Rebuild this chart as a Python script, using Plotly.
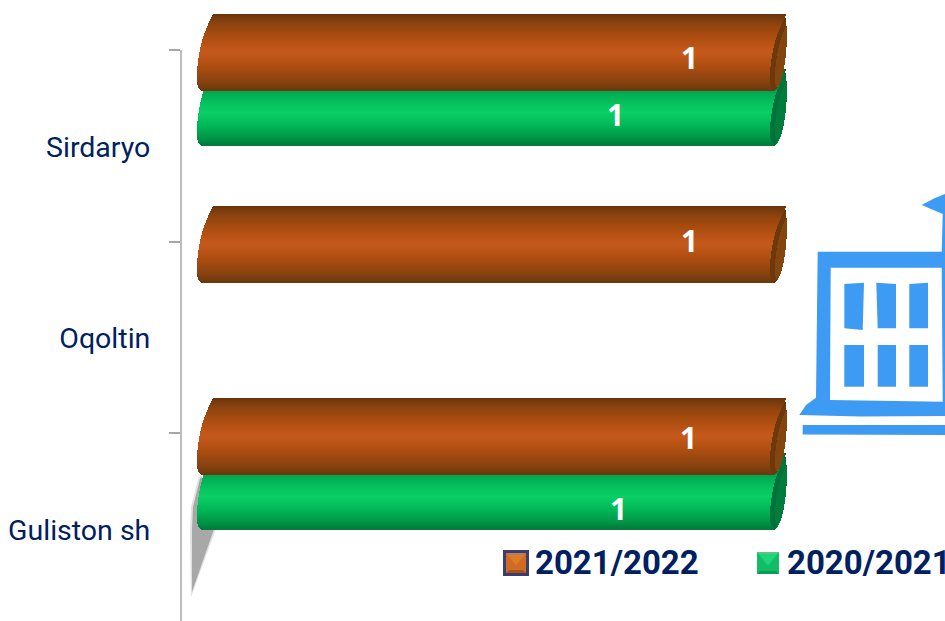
import math
import plotly.graph_objects as go

categories = ["Guliston sh", "Oqoltin", "Sirdaryo"]
values_2021_2022 = [1, 1, 1]
values_2020_2021 = [1, None, 1]
series_names = ["2021/2022", "2020/2021"]

# ---- styling constants (pixels of the 945x621 page) ----
W, H = 945, 621
AXIS_X, AXIS_TOP = 181, 50
ZERO_PX, UNIT_PX = 197.0, 573.0      # value 0 / size of one value unit
BAND_PX = 191.6
CENTER0_PX = 529.0                   # centre of first category
BAR_H = 76
OFFSET = {"brown": -93.0, "green": -38.0}
BROWN_STOPS = [(0, "#6a340c"), (.12, "#8c440e"), (.3, "#ad4d10"), (.5, "#c55a1c"),
               (.7, "#ad4d10"), (.88, "#8a4410"), (1, "#6e370c")]
GREEN_STOPS = [(0, "#006b34"), (.28, "#00a650"), (.45, "#06c25e"), (.57, "#0ccf66"),
               (.75, "#00b757"), (.92, "#009345"), (1, "#007a3c")]
BROWN_CAP, GREEN_CAP = "#84460f", "#007d3c"
BROWN_CAP_IN, GREEN_CAP_IN = "#6e380d", "#00733a"
NAVY = "#002060"
BLUE = "#3d9bf3"
AXIS_COLOR = "#a6a6a6"
LABEL_SHIFTS_BROWN = [(-82, -92), (-81, -97), (-81, -88)]
LABEL_SHIFTS_GREEN = [(-152, -21), None, (-155, -31)]


def hex_rgb(h):
    return tuple(int(h[i:i + 2], 16) for i in (1, 3, 5))


def grad(stops, u):
    for (a, ca), (b, cb) in zip(stops, stops[1:]):
        if u <= b:
            f = (u - a) / (b - a)
            ra, rb = hex_rgb(ca), hex_rgb(cb)
            return "rgb(%d,%d,%d)" % tuple(ra[i] + (rb[i] - ra[i]) * f for i in range(3))
    return stops[-1][1]


def left_px(y):
    """Curved end of the cylinder, y = px from bar top."""
    if y < 66:
        return 16 * ((66 - y) / 66) ** 2.2
    return 6 * (1 - math.sqrt(max(0, 1 - ((y - 66) / 10) ** 2)))


def cap_px(y):
    """Outer edge of the far end cap relative to the value end."""
    if y < 16:
        return 17 - 2 * (1 - y / 16)
    return 17 - 14 * (1 - math.sqrt(max(0, 1 - ((y - 16) / 60) ** 2)))


def cylinder(vals, stops, cap_color, cap_inner, offset):
    traces = []
    ys, bases, xs, cols, cbases, cxs, ibases, ixs = [], [], [], [], [], [], [], []
    for i, v in enumerate(vals):
        if v is None:
            continue
        center = i - offset / BAND_PX
        for k in range(BAR_H):
            y = k + 0.5
            yv = center - (y - BAR_H / 2) / BAND_PX
            lo = left_px(y) / UNIT_PX
            ys.append(yv)
            bases.append(lo)
            xs.append(v)
            cols.append(grad(stops, y / BAR_H))
            cbases.append(v + lo - 0.01)
            cap_w = 0.01 + max(0, cap_px(y) - left_px(y)) / UNIT_PX
            cxs.append(cap_w)
            ibases.append(v + lo - 0.01)
            ixs.append(min(cap_w, 0.01 + 5 / UNIT_PX))
    w = 1.25 / BAND_PX
    for bb, xx, cc in ((cbases, cxs, cap_color), (ibases, ixs, cap_inner), (bases, xs, cols)):
        traces.append(go.Bar(y=ys, x=xx, base=bb, orientation="h", width=w,
                             marker=dict(color=cc, line=dict(width=0)),
                             showlegend=False, hoverinfo="skip"))
    return traces


fig = go.Figure()
for t in cylinder(values_2020_2021, GREEN_STOPS, GREEN_CAP, GREEN_CAP_IN, OFFSET["green"]):
    fig.add_trace(t)
for t in cylinder(values_2021_2022, BROWN_STOPS, BROWN_CAP, BROWN_CAP_IN, OFFSET["brown"]):
    fig.add_trace(t)


def xp(x):
    return (x - AXIS_X) / (W - AXIS_X)


def yp(y):
    return (H - y) / H


def path(pts):
    return "M " + " L ".join(f"{xp(x):.5f},{yp(y):.5f}" for x, y in pts) + " Z"


def poly(pts, color, layer="above", opacity=1):
    return dict(type="path", xref="paper", yref="paper", path=path(pts), fillcolor=color,
                line=dict(width=0), layer=layer, opacity=opacity)


shapes = [dict(type="line", xref="paper", yref="paper", x0=0, x1=0, y0=0, y1=yp(AXIS_TOP),
               line=dict(color=AXIS_COLOR, width=1.5), layer="below")]
# soft shadow under the lowest bar
shapes.append(poly([(199, 475), (191, 507), (190, 530), (191, 597), (216, 529)], "#a8a8a8", "below", .35))
shapes.append(poly([(201, 475), (193, 507), (192, 530), (192, 592), (214, 529)], "#a8a8a8", "below", 1))

# building icon
shapes += [
    poly([(921.7, 205), (935, 198), (945, 194), (945, 252), (941.7, 252), (942.7, 214)], BLUE),
    poly([(817.7, 251.7), (945, 251.7), (945, 416), (860, 416.5), (799.3, 415), (806, 405), (816, 397.7)], BLUE),
    poly([(830.7, 267.7), (941.7, 267.7), (942.7, 401.7), (830, 400)], "#ffffff"),
    poly([(844.3, 284), (864, 282.7), (862.7, 330), (844.3, 328.3)], BLUE),
    poly([(876.3, 282.7), (896, 284), (896, 328.3), (877.7, 328.3)], BLUE),
    poly([(909.3, 284), (928, 282.7), (928, 328.3), (909.3, 328.3)], BLUE),
    poly([(844.3, 345), (864, 345), (864, 386.7), (844.3, 386.7)], BLUE),
    poly([(877.7, 345), (896, 345), (896, 386.7), (877.7, 386.7)], BLUE),
    poly([(909.3, 345), (928, 345), (928, 386.7), (909.3, 386.7)], BLUE),
    poly([(802.7, 425), (945, 425), (945, 435), (802.7, 434.5)], BLUE),
]


def swatch(x0, y0, x1, y1, edge, top, side, bottom, border=None):
    out = []
    if border:
        out.append(poly([(x0 - 3, y0 - 3), (x1 + 3, y0 - 3), (x1 + 3, y1 + 3), (x0 - 3, y1 + 3)], border))
    cx, ax = (x0 + x1) / 2, y0 + (y1 - y0) * .62
    out.append(poly([(x0, y0), (x1, y0), (x1, y1), (x0, y1)], side))
    out.append(poly([(x0, y1), (x1, y1), (x1 - 3, y1 - 3), (x0 + 3, y1 - 3)], bottom))
    out.append(poly([(x0, y0), (x1, y0), (cx, ax)], top))
    out.append(poly([(x0, y0), (x1, y0), (x1 - 2, y0 + 2), (x0 + 2, y0 + 2)], edge))
    return out


shapes += swatch(506, 553, 526, 573, "#b08060", "#e07a2b", "#cf6c24", "#a9521a", border="#3c3c70")
shapes += swatch(757, 552, 779, 574, "#55c58a", "#1fd47a", "#12bd66", "#0a9c50")

ann = []
for lbl_vals, shifts in ((values_2021_2022, LABEL_SHIFTS_BROWN), (values_2020_2021, LABEL_SHIFTS_GREEN)):
    for i, v in enumerate(lbl_vals):
        if v is None:
            continue
        ann.append(dict(x=v, y=i, xref="x", yref="y", text=str(v), showarrow=False,
                        xshift=shifts[i][0], yshift=-shifts[i][1],
                        font=dict(family="Open Sans", size=30, color="#ffffff", weight="bold")))
for name, xpos in zip(series_names, (535, 787)):
    ann.append(dict(x=xp(xpos), y=yp(562), xref="paper", yref="paper", text=name, showarrow=False,
                    xanchor="left", yanchor="middle", xshift=-2,
                    font=dict(family="Roboto", size=33, color=NAVY, weight="bold")))

x0 = (AXIS_X - ZERO_PX) / UNIT_PX
x1 = (W - ZERO_PX) / UNIT_PX
ytop = CENTER0_PX / BAND_PX
ybot = (CENTER0_PX - H) / BAND_PX

fig.update_layout(
    width=W, height=H, autosize=False, barmode="overlay", bargap=0,
    paper_bgcolor="#ffffff", plot_bgcolor="#ffffff",
    margin=dict(l=AXIS_X, r=0, t=0, b=0, pad=0),
    shapes=shapes, annotations=ann, showlegend=False,
    xaxis=dict(range=[x0, x1], visible=False, fixedrange=True),
    yaxis=dict(range=[ybot, ytop], tickmode="array", tickvals=[0, 1, 2], ticktext=categories,
               showgrid=False, zeroline=False, showline=False,
               ticks="outside", ticklen=24, tickcolor="rgba(0,0,0,0)", ticklabelshift=1,
               tickfont=dict(family="Roboto", size=28.5, color=NAVY),
               minor=dict(tickmode="linear", tick0=0.5, dtick=1, ticks="outside", ticklen=11,
                          tickcolor=AXIS_COLOR, tickwidth=1.5, showgrid=False),
               fixedrange=True),
)
fig.write_html("out.html", config={"displayModeBar": False},
               post_script="document.body.style.margin='0';document.body.style.overflow='hidden';")
